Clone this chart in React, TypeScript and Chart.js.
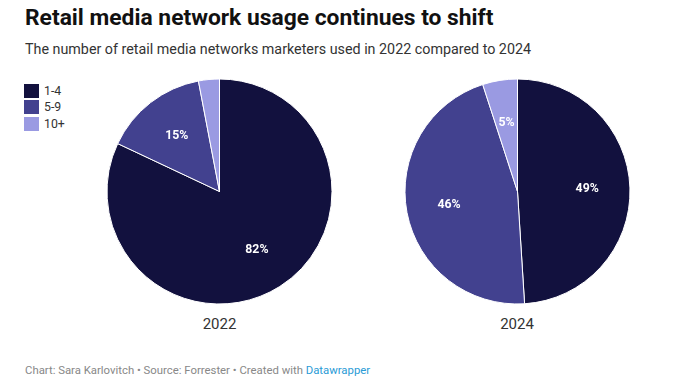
import React, { useEffect, useRef } from "react";
import { Chart, registerables } from "chart.js";

Chart.register(...registerables);

const categories = ["1-4", "5-9", "10+"];
const colors = ["#12113e", "#42418f", "#9a9ae2"];
const years = ["2022", "2024"];
const values2022 = [82, 15, 3];
const values2024 = [49, 46, 5];
const seriesByYear = [values2022, values2024];

const title = "Retail media network usage continues to shift";
const subtitle = "The number of retail media networks marketers used in 2022 compared to 2024";

const FONT = "Roboto, 'Noto Sans', sans-serif";

const labelPlugin = {
  id: "sliceLabels",
  afterDatasetsDraw(chart: any) {
    const ctx = chart.ctx;
    const meta = chart.getDatasetMeta(0);
    const data = chart.data.datasets[0].data as number[];
    ctx.save();
    ctx.fillStyle = "#ffffff";
    ctx.font = `bold 12.3px ${FONT}`;
    ctx.textAlign = "center";
    ctx.textBaseline = "middle";
    meta.data.forEach((arc: any, i: number) => {
      const v = data[i];
      if (v < 5) return;
      const p = arc.getProps(["x", "y", "startAngle", "endAngle", "outerRadius"], true);
      const mid = (p.startAngle + p.endAngle) / 2;
      const r = p.outerRadius * 0.62;
      ctx.fillText(`${v}%`, p.x + Math.cos(mid) * r, p.y + Math.sin(mid) * r);
    });
    ctx.restore();
  },
};

function Pie({ values, left, top }: { values: number[]; left: number; top: number }) {
  const ref = useRef<HTMLCanvasElement | null>(null);
  useEffect(() => {
    if (!ref.current) return;
    const chart = new Chart(ref.current, {
      type: "pie",
      data: {
        labels: categories,
        datasets: [
          {
            data: values,
            backgroundColor: colors,
            borderColor: "#ffffff",
            borderWidth: 1,
          },
        ],
      },
      options: {
        responsive: false,
        animation: false,
        radius: 112.5,
        plugins: {
          legend: { display: false },
          tooltip: { enabled: false },
        },
        layout: { padding: 0 },
      } as any,
      plugins: [labelPlugin],
    });
    return () => chart.destroy();
  }, [values]);
  return (
    <canvas
      ref={ref}
      width={241}
      height={241}
      style={{ position: "absolute", left, top, width: 241, height: 241 }}
    />
  );
}

export default function App() {
  const pieCenters = [219.5, 517];
  return (
    <div
      style={{
        position: "absolute",
        left: 0,
        top: 0,
        width: 700,
        height: 386,
        background: "#ffffff",
        fontFamily: FONT,
        overflow: "hidden",
      }}
    >
      <div
        style={{
          position: "absolute",
          left: 25,
          top: 7,
          fontSize: 22.8,
          lineHeight: "22px",
          fontWeight: 700,
          color: "#111",
          whiteSpace: "nowrap",
        }}
      >
        {title}
      </div>
      <div
        style={{
          position: "absolute",
          left: 25,
          top: 41.5,
          fontSize: 14.3,
          lineHeight: "14px",
          color: "#333",
          whiteSpace: "nowrap",
        }}
      >
        {subtitle}
      </div>
      {categories.map((c, i) => (
        <div
          key={c}
          style={{ position: "absolute", left: 24, top: 84 + i * 16.3, height: 14, display: "flex", alignItems: "center" }}
        >
          <div style={{ width: 15, height: 14, background: colors[i] }} />
          <div style={{ marginLeft: 5, fontSize: 12.3, lineHeight: "14px", color: "#333" }}>{c}</div>
        </div>
      ))}
      {seriesByYear.map((vals, i) => (
        <Pie key={years[i]} values={vals} left={Math.round(pieCenters[i] - 120.5)} top={71} />
      ))}
      {years.map((y, i) => (
        <div
          key={y}
          style={{
            position: "absolute",
            left: pieCenters[i] - 50,
            width: 100,
            top: 316.7,
            textAlign: "center",
            fontSize: 15,
            lineHeight: "15px",
            color: "#333",
          }}
        >
          {y}
        </div>
      ))}
      <div
        style={{
          position: "absolute",
          left: 25,
          top: 364.5,
          fontSize: 11.35,
          lineHeight: "11px",
          color: "#888",
          whiteSpace: "nowrap",
        }}
      >
        Chart: Sara Karlovitch • Source: Forrester • Created with{" "}
        <span style={{ color: "#2a9bd6" }}>Datawrapper</span>
      </div>
    </div>
  );
}
